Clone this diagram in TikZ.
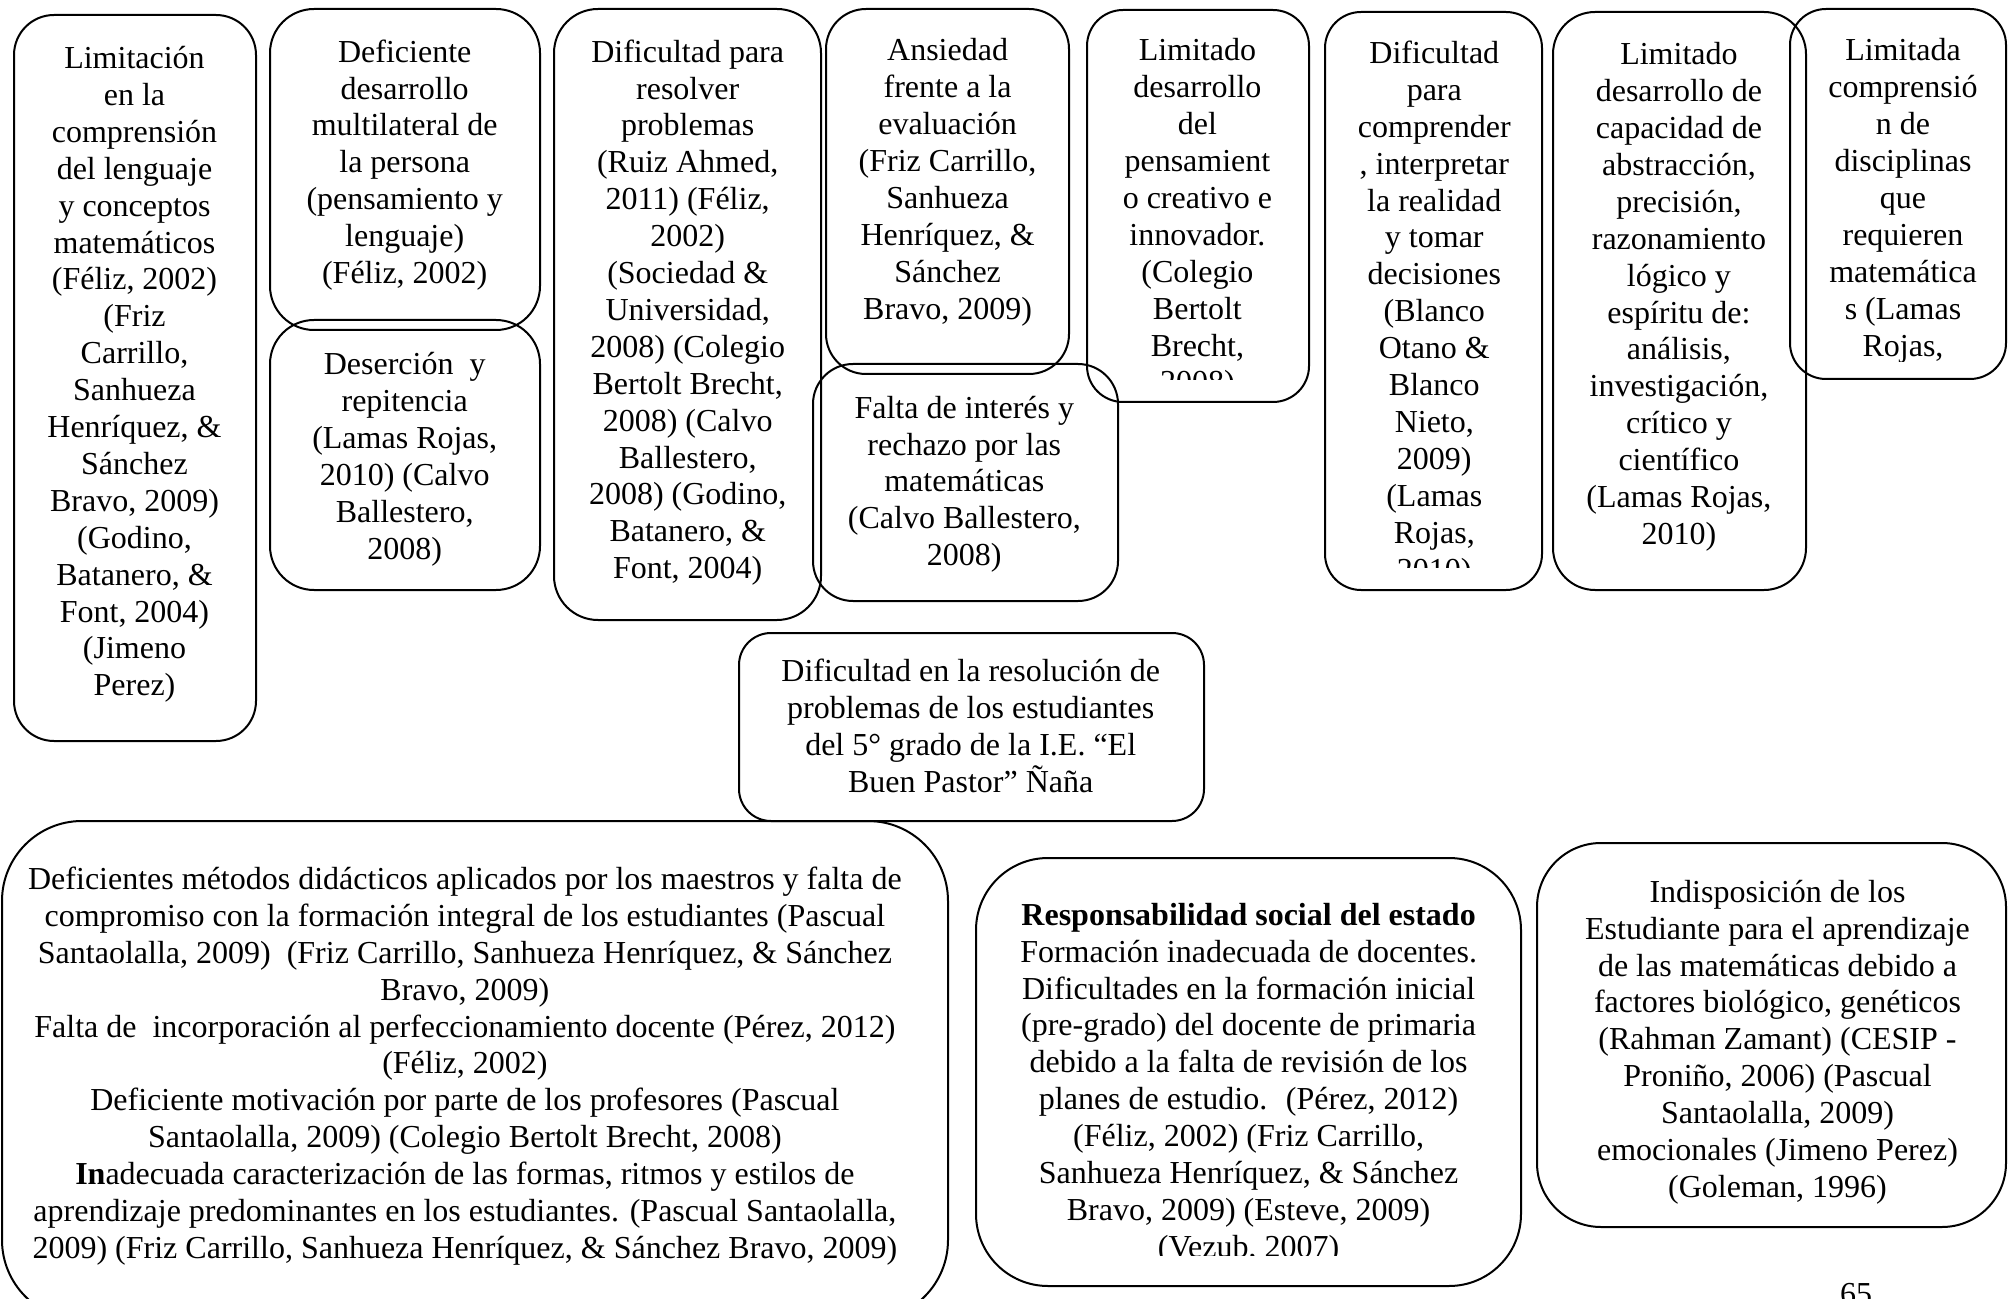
\documentclass[tikz,border=0pt]{standalone}
\usepackage{fontspec}
\setmainfont{Liberation Serif}
\usetikzlibrary{fit}
\begin{document}
\begin{tikzpicture}[x=0.5pt,y=-0.5pt,
  cbox/.style={draw=black,line width=1pt,inner sep=0pt,rounded corners=#1},
  cbox/.default=20pt,
  txt/.style={anchor=north,align=center,inner sep=0pt,font=\fontsize{16}{18.45}\selectfont}]
\useasboundingbox (0,0) rectangle (2008,1299);
% boxes
\node[cbox,fit={(14,15)(256,741)}] (b1) {};
\node[cbox=22pt,fit={(270,9)(540,330)}] (b2) {};
\node[cbox=22pt,fit={(270,320)(540,590)}] (b3) {};
\node[cbox=22pt,fit={(554,9)(821,620)}] (b4) {};
\node[cbox,fit={(826,9)(1069,374)}] (b5) {};
\node[cbox,fit={(813,364)(1118,601)}] (b6) {};
\node[cbox=18pt,fit={(1087,10)(1309,402)}] (b7) {};
\node[cbox=18pt,fit={(1325,12)(1542,590)}] (b8) {};
\node[cbox=21pt,fit={(1553,12)(1806,590)}] (b9) {};
\node[cbox=18pt,fit={(1790,9)(2006,379)}] (b10) {};
\node[cbox=16pt,fit={(739,633)(1204,821)}] (b11) {};
\node[cbox=40pt,fit={(2,821)(948,1320)}] (b12) {};
\node[cbox=36pt,fit={(976,858)(1521,1286)}] (b13) {};
\node[cbox=32pt,fit={(1537,843)(2006,1227)}] (b14) {};
% texts
\node[txt] (t1) at (134.5,42.3) {\strut Limitación\\en la\\comprensión\\del lenguaje\\y conceptos\\matemáticos\\(Féliz, 2002)\\(Friz\\Carrillo,\\Sanhueza\\Henríquez, \&\\Sánchez\\Bravo, 2009)\\(Godino,\\Batanero, \&\\Font, 2004)\\(Jimeno\\Perez)};
\node[txt] (t2) at (404.7,35.9) {\strut Deficiente\\desarrollo\\multilateral de\\la persona\\(pensamiento y\\lenguaje)\\(Féliz, 2002)};
\node[txt] (t3) at (404.7,348.4) {\strut Deserción~ y\\repitencia\\(Lamas Rojas,\\2010) (Calvo\\Ballestero,\\2008)};
\node[txt] (t4) at (687.7,35.9) {\strut Dificultad para\\resolver\\problemas\\(Ruiz Ahmed,\\2011) (Féliz,\\2002)\\(Sociedad \&\\Universidad,\\2008) (Colegio\\Bertolt Brecht,\\2008) (Calvo\\Ballestero,\\2008) (Godino,\\Batanero, \&\\Font, 2004)};
\node[txt] (t5) at (947.6,34.6) {\strut Ansiedad\\frente a la\\evaluación\\(Friz Carrillo,\\Sanhueza\\Henríquez, \&\\Sánchez\\Bravo, 2009)};
\node[txt] (t6) at (964.3,391.9) {\strut Falta de interés y\\rechazo por las\\matemáticas\\(Calvo Ballestero,\\2008)};
\begin{scope}
\clip (1087,10) rectangle (1309,380);
\node[txt] (t7) at (1197.4,34.6) {\strut Limitado\\desarrollo\\del\\pensamient\\o creativo e\\innovador.\\(Colegio\\Bertolt\\Brecht,\\2008)};
\end{scope}
\begin{scope}
\clip (1325,12) rectangle (1542,567);
\node[txt] (t8) at (1434.3,37.2) {\strut Dificultad\\para\\comprender\\, interpretar\\la realidad\\y tomar\\decisiones\\(Blanco\\Otano \&\\Blanco\\Nieto,\\2009)\\(Lamas\\Rojas,\\2010)};
\end{scope}
\node[txt] (t9) at (1678.9,38.5) {\strut Limitado\\desarrollo de\\capacidad de\\abstracción,\\precisión,\\razonamiento\\lógico y\\espíritu de:\\análisis,\\investigación,\\crítico y\\científico\\(Lamas Rojas,\\2010)};
\begin{scope}
\clip (1790,9) rectangle (2006,362);
\node[txt] (t10) at (1903,34.6) {\strut Limitada\\comprensió\\n de\\disciplinas\\que\\requieren\\matemática\\s (Lamas\\Rojas,\\2010)};
\end{scope}
\node[txt] (t11) at (970.7,655.7) {\strut Dificultad en la resolución de\\problemas de los estudiantes\\del 5° grado de la I.E. “El\\Buen Pastor” Ñaña};
\node[txt] (t12) at (464.9,863.2) {\strut Deficientes métodos didácticos aplicados por los maestros y falta de\\compromiso con la formación integral de los estudiantes (Pascual\\Santaolalla, 2009)~ (Friz Carrillo, Sanhueza Henríquez, \& Sánchez\\Bravo, 2009)\\Falta de~ incorporación al perfeccionamiento docente (Pérez, 2012)\\(Féliz, 2002)\\Deficiente motivación por parte de los profesores (Pascual\\Santaolalla, 2009) (Colegio Bertolt Brecht, 2008)\\\textbf{In}adecuada caracterización de las formas, ritmos y estilos de\\aprendizaje predominantes en los estudiantes. (Pascual Santaolalla,\\2009) (Friz Carrillo, Sanhueza Henríquez, \& Sánchez Bravo, 2009)};
\begin{scope}
\clip (976,858) rectangle (1521,1255);
\node[txt] (t13) at (1248.6,899) {\strut\textbf{Responsabilidad social del estado}\\Formación inadecuada de docentes.\\Dificultades en la formación inicial\\(pre-grado) del docente de primaria\\debido a la falta de revisión de los\\planes de estudio.~ (Pérez, 2012)\\(Féliz, 2002) (Friz Carrillo,\\Sanhueza Henríquez, \& Sánchez\\Bravo, 2009) (Esteve, 2009)\\(Vezub, 2007)};
\end{scope}
\node[txt] (t14) at (1777.5,876) {\strut Indisposición de los\\Estudiante para el aprendizaje\\de las matemáticas debido a\\factores biológico, genéticos\\(Rahman Zamant) (CESIP -\\Proniño, 2006) (Pascual\\Santaolalla, 2009)\\emocionales (Jimeno Perez)\\(Goleman, 1996)};
\node[txt] (pg) at (1856,1278) {\strut 65};
\end{tikzpicture}
\end{document}
